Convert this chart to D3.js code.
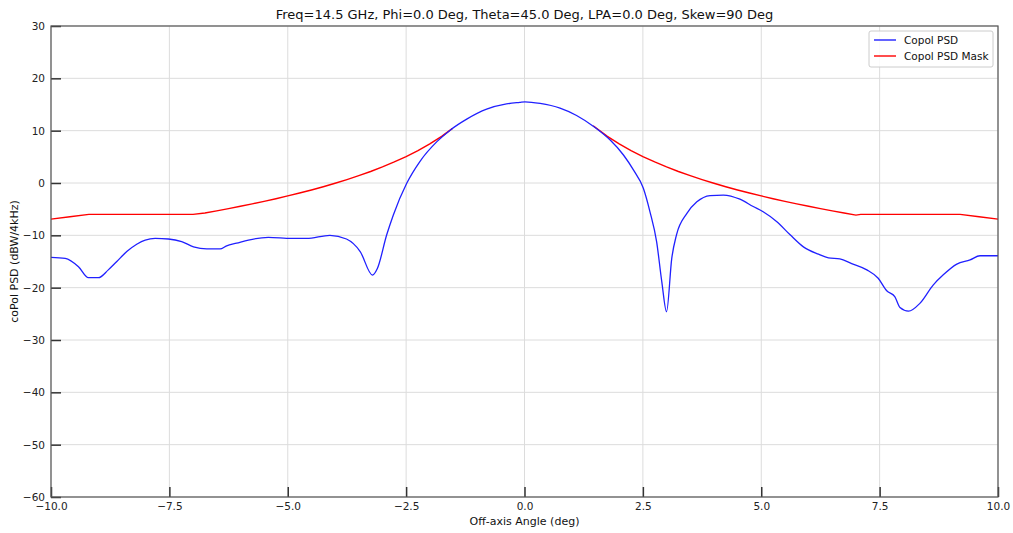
<!DOCTYPE html>
<html>
<head>
<meta charset="utf-8">
<script src="https://cdn.jsdelivr.net/npm/d3@7"></script>
<style>
  body { margin: 0; background: #fff; }
  svg { font-family: "DejaVu Sans", sans-serif; }
</style>
</head>
<body>
<svg id="chart" width="1013" height="533"></svg>
<script>
const titleText = "Freq=14.5 GHz, Phi=0.0 Deg, Theta=45.0 Deg, LPA=0.0 Deg, Skew=90 Deg";
const xLabel = "Off-axis Angle (deg)";
const yLabel = "coPol PSD (dBW/4kHz)";
const seriesNames = ["Copol PSD", "Copol PSD Mask"];
const xTicks = [-10, -7.5, -5, -2.5, 0, 2.5, 5, 7.5, 10];
const yTicks = [30, 20, 10, 0, -10, -20, -30, -40, -50, -60];

// Copol PSD
const psdAngle = [-10.0, -9.70, -9.42, -9.21, -9.00, -8.79, -8.61, -8.40, -8.19, -8.01, -7.80, -7.52, -7.24, -6.99, -6.71, -6.43, -6.29, -6.08, -5.83, -5.41, -4.92, -4.60, -4.11, -3.76, -3.47, -3.21, -3.11, -2.91, -2.77, -2.49, -2.21, -1.85, -1.57, -1.22, -0.80, -0.38, -0.10, 0.01, 0.33, 0.75, 1.10, 1.49, 1.81, 2.09, 2.30, 2.51, 2.65, 2.79, 2.90, 3.00, 3.11, 3.21, 3.43, 3.64, 3.92, 4.20, 4.55, 4.83, 5.04, 5.33, 5.61, 5.89, 6.21, 6.42, 6.66, 6.91, 7.23, 7.47, 7.65, 7.82, 7.93, 8.11, 8.35, 8.63, 8.85, 9.13, 9.41, 9.62, 10.0];
const psdValue = [-14.2, -14.4, -16.0, -18.1, -18.1, -16.6, -15.0, -13.1, -11.7, -10.9, -10.6, -10.7, -11.2, -12.2, -12.6, -12.6, -12.0, -11.5, -10.9, -10.4, -10.6, -10.6, -10.0, -10.7, -13.1, -17.6, -16.4, -9.9, -6.1, -0.1, 4.1, 7.9, 10.1, 12.2, 14.1, 15.1, 15.4, 15.5, 15.2, 14.3, 12.9, 10.6, 8.2, 5.35, 2.5, -1.0, -5.5, -11.2, -18.9, -24.6, -14.4, -9.9, -5.8, -3.6, -2.4, -2.3, -3.1, -4.5, -5.5, -7.4, -9.9, -12.2, -13.6, -14.3, -14.5, -15.4, -16.6, -18.2, -20.6, -21.7, -23.8, -24.5, -23.0, -19.5, -17.5, -15.5, -14.7, -13.9, -13.9];

// Copol PSD Mask, left and right branches
const maskLeftAngle = [-10.0, -9.6, -9.2, -8.0, -7.0, -6.75, -6.5, -6.25, -6.0, -5.75, -5.5, -5.25, -5.0, -4.75, -4.5, -4.25, -4.0, -3.75, -3.5, -3.25, -3.0, -2.75, -2.5, -2.25, -2.0, -1.75, -1.52];
const maskLeftValue = [-6.9, -6.45, -6.0, -6.0, -6.0, -5.73, -5.32, -4.90, -4.45, -3.99, -3.51, -3.01, -2.47, -1.92, -1.33, -0.71, -0.05, 0.65, 1.40, 2.20, 3.07, 4.02, 5.05, 6.20, 7.47, 8.92, 10.45];
const maskRightAngle = [1.45, 1.75, 2.0, 2.25, 2.5, 2.75, 3.0, 3.25, 3.5, 3.75, 4.0, 4.25, 4.5, 4.75, 5.0, 5.25, 5.5, 5.75, 6.0, 6.25, 6.5, 6.75, 7.0, 7.1, 8.0, 9.2, 9.6, 10.0];
const maskRightValue = [10.95, 8.92, 7.47, 6.20, 5.05, 4.02, 3.07, 2.20, 1.40, 0.65, -0.05, -0.71, -1.33, -1.92, -2.47, -3.01, -3.51, -3.99, -4.45, -4.90, -5.32, -5.73, -6.13, -6.0, -6.0, -6.0, -6.45, -6.9];

const svg = d3.select("#chart");
const W = 1013, H = 533;
const m = {left: 51, right: 15, top: 26, bottom: 36};
const x = d3.scaleLinear().domain([-10, 10]).range([m.left, W - m.right]);
const y = d3.scaleLinear().domain([-60, 30]).range([H - m.bottom, m.top]);
const fmtX = d => d3.format(".1f")(d).replace("-", "\u2212");
const fmtY = d => String(d).replace("-", "\u2212");

// grid
const grid = svg.append("g");
grid.selectAll("line.gx").data(xTicks).join("line")
  .attr("x1", d => x(d)).attr("x2", d => x(d))
  .attr("y1", m.top).attr("y2", H - m.bottom)
  .attr("stroke", "#dcdcdc").attr("stroke-width", 1);
grid.selectAll("line.gy").data(yTicks).join("line")
  .attr("x1", m.left).attr("x2", W - m.right)
  .attr("y1", d => y(d)).attr("y2", d => y(d))
  .attr("stroke", "#dcdcdc").attr("stroke-width", 1);

// lines
const lineLin = d3.line().x(d => x(d[0])).y(d => y(d[1]));
const lineSmooth = d3.line().x(d => x(d[0])).y(d => y(d[1])).curve(d3.curveMonotoneX);
const mk = (a, v) => a.map((d, i) => [d, v[i]]);
const plot = svg.append("g");
plot.append("path").datum(mk(maskLeftAngle, maskLeftValue)).attr("d", lineLin)
  .attr("fill", "none").attr("stroke", "#ff0000").attr("stroke-width", 1.4);
plot.append("path").datum(mk(maskRightAngle, maskRightValue)).attr("d", lineLin)
  .attr("fill", "none").attr("stroke", "#ff0000").attr("stroke-width", 1.4);
plot.append("path").datum(mk(psdAngle, psdValue)).attr("d", lineSmooth)
  .attr("fill", "none").attr("stroke", "#2020ff").attr("stroke-width", 1.3);

// axes
const xAxis = d3.axisBottom(x).tickValues(xTicks).tickFormat(fmtX).tickSizeInner(-10).tickSizeOuter(0).tickPadding(4);
const yAxis = d3.axisLeft(y).tickValues(yTicks).tickFormat(fmtY).tickSizeInner(-10).tickSizeOuter(0).tickPadding(6);
const gx = svg.append("g").attr("transform", `translate(0,${H - m.bottom})`).call(xAxis);
const gy = svg.append("g").attr("transform", `translate(${m.left},0)`).call(yAxis);
[gx, gy].forEach(g => {
  g.select(".domain").remove();
  g.selectAll(".tick line").attr("stroke", "#333").attr("stroke-width", 1.5);
  g.selectAll(".tick text").attr("fill", "#222").style("font-size", "10.5px").style("font-family", "DejaVu Sans");
});
gx.selectAll(".tick text").attr("dy", "0.9em");

// frame
svg.append("rect").attr("x", m.left).attr("y", m.top)
  .attr("width", W - m.right - m.left).attr("height", H - m.bottom - m.top)
  .attr("fill", "none").attr("stroke", "#555").attr("stroke-width", 1.2);

// title & labels
svg.append("text").attr("x", (m.left + W - m.right) / 2).attr("y", 19)
  .attr("text-anchor", "middle").style("font-size", "13px").attr("fill", "#111").text(titleText);
svg.append("text").attr("x", (m.left + W - m.right) / 2).attr("y", 525)
  .attr("text-anchor", "middle").style("font-size", "11px").attr("fill", "#111").text(xLabel);
svg.append("text").attr("transform", `translate(18,${(m.top + H - m.bottom) / 2}) rotate(-90)`)
  .attr("text-anchor", "middle").style("font-size", "11px").attr("fill", "#111").text(yLabel);

// legend
const lg = svg.append("g").attr("transform", "translate(869,31)");
lg.append("rect").attr("width", 124).attr("height", 36).attr("rx", 2)
  .attr("fill", "#fff").attr("fill-opacity", 0.85).attr("stroke", "#ccc");
const colors = ["#2020ff", "#ff0000"];
seriesNames.forEach((s, i) => {
  lg.append("line").attr("x1", 5).attr("x2", 27).attr("y1", 9 + i * 16).attr("y2", 9 + i * 16)
    .attr("stroke", colors[i]).attr("stroke-width", 1.4);
  lg.append("text").attr("x", 35).attr("y", 9 + i * 16).attr("dy", "0.35em")
    .style("font-size", "10.5px").attr("fill", "#111").text(s);
});
</script>
</body>
</html>
